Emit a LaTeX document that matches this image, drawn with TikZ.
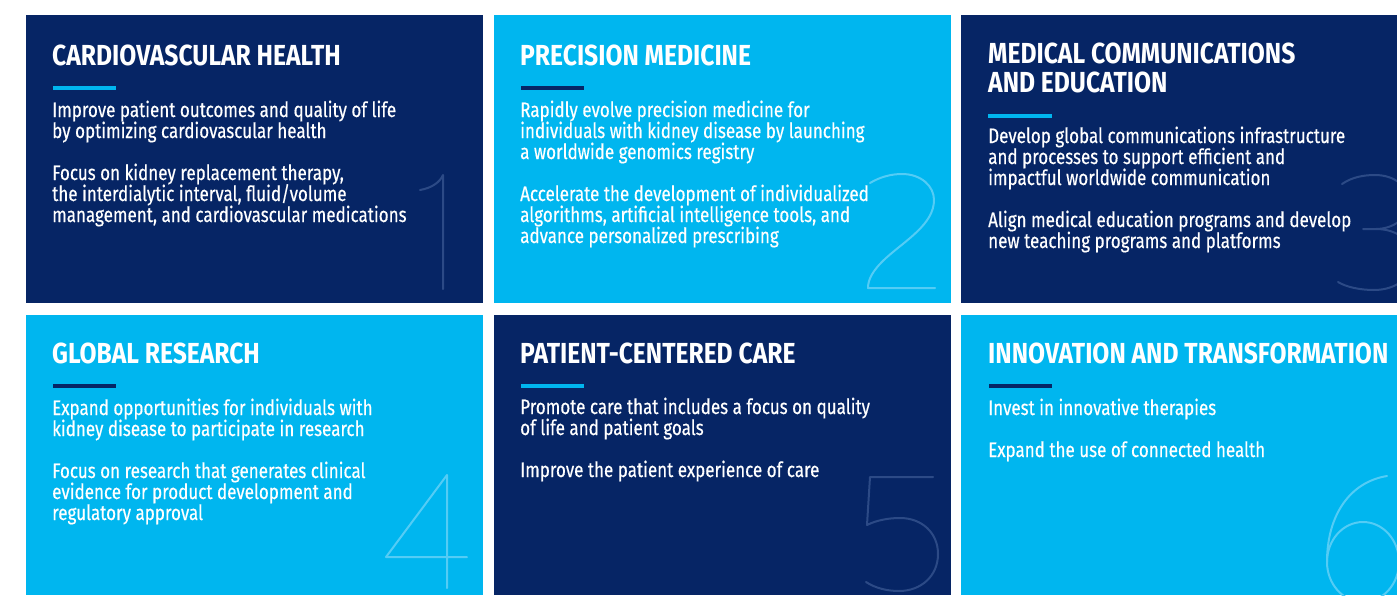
\documentclass[tikz,border=0pt]{standalone}
\usepackage{fontspec}
\setmainfont{Fira Sans}
\newfontfamily\bodyfont{Fira Sans}[FakeStretch=0.81,FakeBold=0.4]
\newfontfamily\headfont{Fira Sans}[FakeStretch=0.85]
\definecolor{navy}{RGB}{6,37,101}
\definecolor{sky}{RGB}{0,182,239}
\definecolor{navydigit}{RGB}{44,74,134}
\definecolor{skydigit}{RGB}{84,204,245}
\newcommand\txtline[1]{\hbox{#1}}
\newcommand\stackbody[1]{\vtop{\baselineskip=21pt\lineskiplimit=-30pt\lineskip=0pt #1}}
\newcommand\stacktitle[1]{\vtop{\baselineskip=29pt\lineskiplimit=-30pt\lineskip=0pt #1}}
\tikzset{
  titletext/.style={anchor=base west, inner sep=0pt, text=white, font=\headfont\bfseries\fontsize{29}{29}\selectfont},
  bodytext/.style={anchor=base west, inner sep=0pt, text=white, font=\bodyfont\fontsize{21}{21}\selectfont},
  digitline/.style={line width=2pt, line cap=round, line join=round},
}
\begin{document}
\begin{tikzpicture}[x=1pt,y=-1pt]
\useasboundingbox (0,0) rectangle (1397,595);
\fill[white] (0,0) rectangle (1397,595);
% panels
\fill[navy] (26,15) rectangle (483,303);
\fill[sky] (494,15) rectangle (951,303);
\fill[navy] (961,15) rectangle (1397,303);
\fill[sky] (26,315) rectangle (483,595);
\fill[navy] (494,315) rectangle (951,595);
\fill[sky] (961,315) rectangle (1397,595);
% digits
\begin{scope}
\clip (26,15) rectangle (483,303);
\draw[digitline, navydigit] (420,190) .. controls (432,188) and (440,182) .. (443,175) -- (443,289);
\end{scope}
\begin{scope}
\clip (494,15) rectangle (951,303);
\draw[digitline, skydigit] (870,183) .. controls (880,177) and (891,174) .. (902,174) .. controls (921,174) and (934,186) .. (934,200) .. controls (934,224) and (906,240) .. (886,258) .. controls (873,270) and (868,279) .. (868,288) -- (935,288);
\end{scope}
\begin{scope}
\clip (961,15) rectangle (1397,303);
\draw[digitline, navydigit] (1342,184) .. controls (1352,177) and (1364,175) .. (1375,175) .. controls (1396,175) and (1409,188) .. (1409,202) .. controls (1409,218) and (1393,229) .. (1376,229) -- (1363,229);
\draw[digitline, navydigit] (1376,229) .. controls (1399,229) and (1413,243) .. (1413,259) .. controls (1413,277) and (1396,290) .. (1374,290) .. controls (1360,290) and (1346,287) .. (1338,282);
\end{scope}
\begin{scope}
\clip (26,315) rectangle (483,595);
\draw[digitline, skydigit] (447,588) -- (447,475) -- (386,557) -- (467,557);
\end{scope}
\begin{scope}
\clip (494,315) rectangle (951,595);
\draw[digitline, navydigit] (933,477) -- (870,477) -- (867,525) .. controls (877,520) and (889,518) .. (900,518) .. controls (922,518) and (938,533) .. (938,554) .. controls (938,576) and (921,591) .. (899,591) .. controls (887,591) and (875,588) .. (866,582);
\end{scope}
\begin{scope}
\clip (961,315) rectangle (1397,595);
\draw[digitline, skydigit] (1387,476) .. controls (1350,482) and (1327,515) .. (1327,562);
\draw[digitline, skydigit] (1363,562) ellipse [x radius=36, y radius=40];
\end{scope}
% bars
\fill[sky] (53,86) rectangle (116,89.5);
\fill[navy] (521,86) rectangle (584,89.5);
\fill[sky] (988,114) rectangle (1052,117.5);
\fill[navy] (53,384) rectangle (116,387.5);
\fill[sky] (521,384) rectangle (584,387.5);
\fill[navy] (989,384) rectangle (1052,387.5);
% titles
\node[titletext] (t1) at (52,65) {CARDIOVASCULAR HEALTH};
\node[titletext] (t2) at (520,65) {PRECISION MEDICINE};
\node[titletext] (t3) at (988,63) {\stacktitle{\txtline{MEDICAL COMMUNICATIONS}\txtline{AND EDUCATION}}};
\node[titletext] (t4) at (52,363) {GLOBAL RESEARCH};
\node[titletext] (t5) at (520,363) {PATIENT-CENTERED CARE};
\node[titletext] (t6) at (988,363) {INNOVATION AND TRANSFORMATION};
% bodies
\node[bodytext] (b1) at (52,117) {\stackbody{%
\txtline{Improve patient outcomes and quality of life}%
\txtline{by optimizing cardiovascular health}%
\txtline{}%
\txtline{Focus on kidney replacement therapy,}%
\txtline{the interdialytic interval, fluid/volume}%
\txtline{management, and cardiovascular medications}}};
\node[bodytext] (b2) at (520,117) {\stackbody{%
\txtline{Rapidly evolve precision medicine for}%
\txtline{individuals with kidney disease by launching}%
\txtline{a worldwide genomics registry}%
\txtline{}%
\txtline{Accelerate the development of individualized}%
\txtline{algorithms, artificial intelligence tools, and}%
\txtline{advance personalized prescribing}}};
\node[bodytext] (b3) at (988,143) {\stackbody{%
\txtline{Develop global communications infrastructure}%
\txtline{and processes to support efficient and}%
\txtline{impactful worldwide communication}%
\txtline{}%
\txtline{Align medical education programs and develop}%
\txtline{new teaching programs and platforms}}};
\node[bodytext] (b4) at (52,415) {\stackbody{%
\txtline{Expand opportunities for individuals with}%
\txtline{kidney disease to participate in research}%
\txtline{}%
\txtline{Focus on research that generates clinical}%
\txtline{evidence for product development and}%
\txtline{regulatory approval}}};
\node[bodytext] (b5) at (520,414) {\stackbody{%
\txtline{Promote care that includes a focus on quality}%
\txtline{of life and patient goals}%
\txtline{}%
\txtline{Improve the patient experience of care}}};
\node[bodytext] (b6) at (988,415) {\stackbody{%
\txtline{Invest in innovative therapies}%
\txtline{}%
\txtline{Expand the use of connected health}}};
\end{tikzpicture}
\end{document}
